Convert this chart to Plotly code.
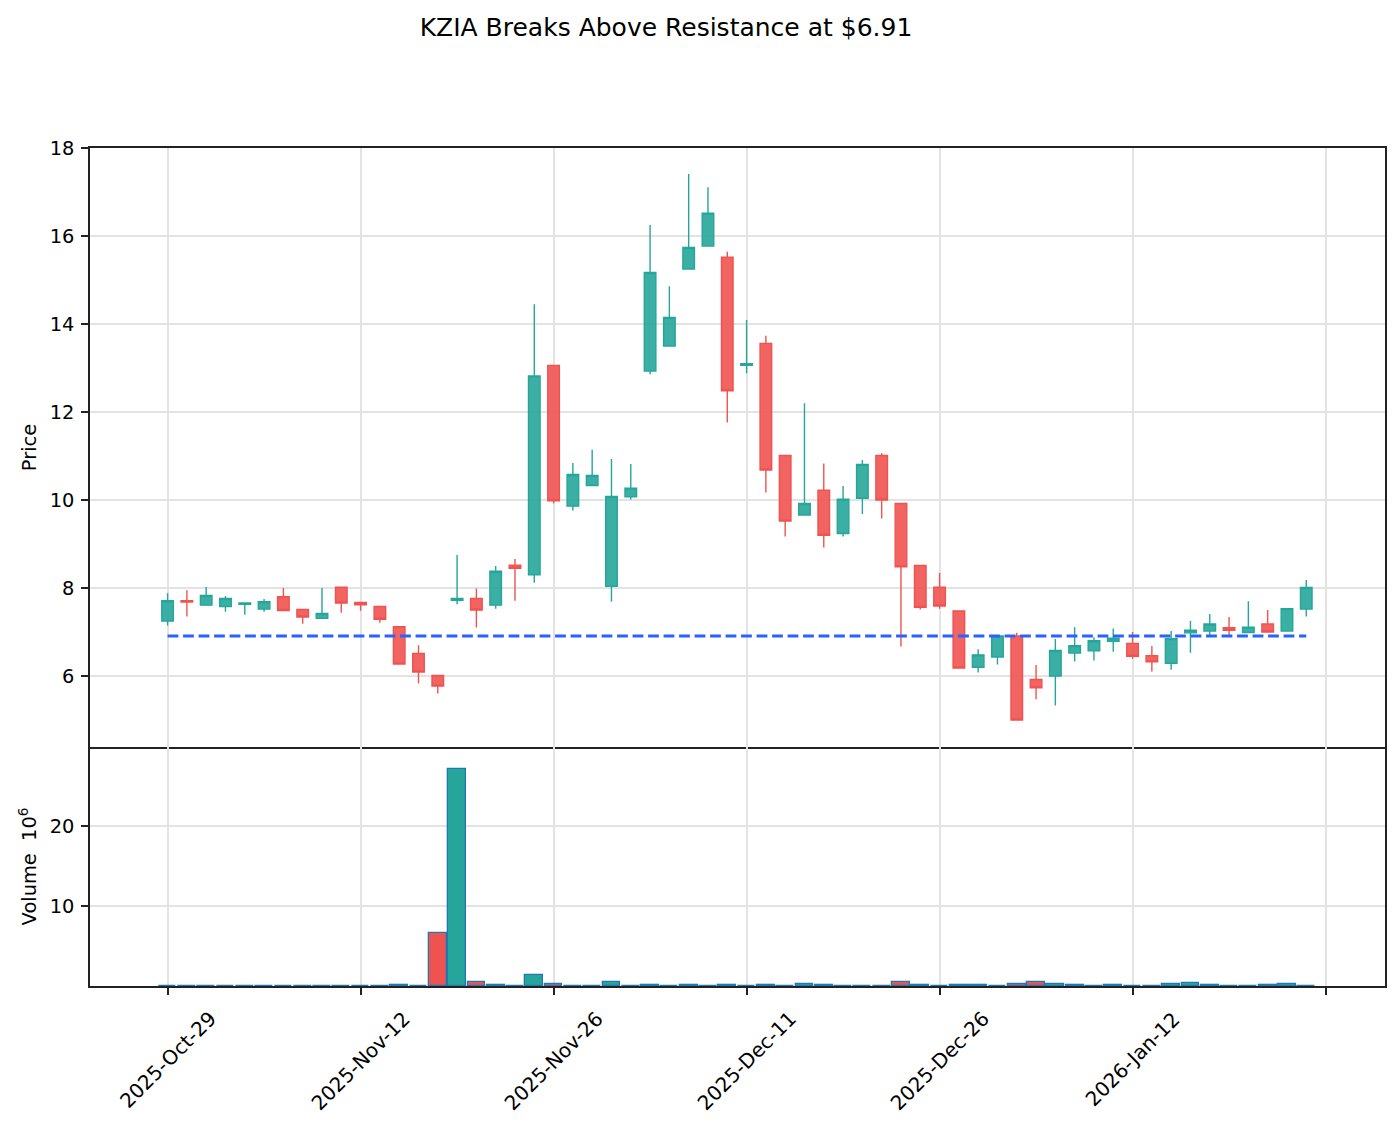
import datetime as dt
import plotly.graph_objects as go

# ---- data ----
dates = ["2025-10-29", "2025-10-30", "2025-10-31", "2025-11-03", "2025-11-04", "2025-11-05",
         "2025-11-06", "2025-11-07", "2025-11-10", "2025-11-11", "2025-11-12", "2025-11-13",
         "2025-11-14", "2025-11-17", "2025-11-18", "2025-11-19", "2025-11-20", "2025-11-21",
         "2025-11-24", "2025-11-25", "2025-11-26", "2025-11-28", "2025-12-01", "2025-12-02",
         "2025-12-03", "2025-12-04", "2025-12-05", "2025-12-08", "2025-12-09", "2025-12-10",
         "2025-12-11", "2025-12-12", "2025-12-15", "2025-12-16", "2025-12-17", "2025-12-18",
         "2025-12-19", "2025-12-22", "2025-12-23", "2025-12-24", "2025-12-26", "2025-12-29",
         "2025-12-30", "2025-12-31", "2026-01-02", "2026-01-05", "2026-01-06", "2026-01-07",
         "2026-01-08", "2026-01-09", "2026-01-12", "2026-01-13", "2026-01-14", "2026-01-15",
         "2026-01-16", "2026-01-20", "2026-01-21", "2026-01-22", "2026-01-23", "2026-01-26"]

opens = [7.25, 7.71, 7.61, 7.58, 7.63, 7.52, 7.80, 7.51, 7.31, 8.02,
         7.67, 7.58, 7.12, 6.51, 6.01, 7.72, 7.76, 7.61, 8.52, 8.30,
         13.06, 9.86, 10.33, 8.04, 10.07, 12.93, 13.50, 15.25, 15.77, 15.52,
         13.06, 13.56, 11.01, 9.66, 10.22, 9.24, 10.04, 11.01, 9.92, 8.51,
         8.02, 7.48, 6.20, 6.43, 6.91, 5.92, 6.00, 6.52, 6.57, 6.79,
         6.74, 6.46, 6.29, 6.98, 7.02, 7.10, 6.99, 7.18, 7.02, 7.52]
highs = [7.88, 7.95, 8.02, 7.82, 7.67, 7.75, 8.00, 7.52, 8.00, 8.03,
         7.68, 7.58, 7.13, 6.70, 6.01, 8.75, 7.99, 8.50, 8.66, 14.45,
         13.07, 10.84, 11.14, 10.93, 10.82, 16.25, 14.86, 17.41, 17.11, 15.64,
         14.09, 13.73, 11.02, 12.20, 10.83, 10.32, 10.91, 11.06, 9.93, 8.52,
         8.34, 7.49, 6.61, 6.92, 6.98, 6.25, 6.84, 7.11, 6.88, 7.08,
         7.00, 6.68, 7.02, 7.25, 7.41, 7.34, 7.70, 7.50, 7.54, 8.18]
lows = [7.15, 7.35, 7.60, 7.46, 7.39, 7.46, 7.48, 7.19, 7.30, 7.44,
        7.48, 7.21, 6.26, 5.83, 5.60, 7.63, 7.10, 7.53, 7.71, 8.12,
        9.92, 9.76, 10.32, 7.69, 10.01, 12.86, 13.49, 15.24, 15.76, 11.76,
        12.88, 10.17, 9.17, 9.65, 8.92, 9.17, 9.68, 9.58, 6.67, 7.51,
        7.53, 6.17, 6.08, 6.26, 4.98, 5.47, 5.33, 6.33, 6.35, 6.55,
        6.39, 6.10, 6.14, 6.53, 6.92, 6.93, 6.98, 7.00, 7.01, 7.35]
closes = [7.71, 7.68, 7.83, 7.76, 7.66, 7.69, 7.49, 7.34, 7.42, 7.66,
          7.62, 7.29, 6.27, 6.09, 5.77, 7.76, 7.50, 8.38, 8.45, 12.82,
          9.98, 10.58, 10.56, 10.08, 10.27, 15.17, 14.15, 15.74, 16.52, 12.48,
          13.10, 10.68, 9.52, 9.92, 9.20, 10.02, 10.81, 10.00, 8.48, 7.56,
          7.59, 6.18, 6.48, 6.91, 5.00, 5.73, 6.58, 6.69, 6.80, 6.86,
          6.45, 6.32, 6.85, 7.04, 7.18, 7.04, 7.11, 7.00, 7.53, 8.01]
volumes_m = [0.04, 0.02, 0.02, 0.02, 0.02, 0.02, 0.02, 0.02, 0.02, 0.02,
             0.02, 0.02, 0.08, 0.03, 6.6, 27.1, 0.45, 0.12, 0.03, 1.35,
             0.22, 0.03, 0.03, 0.45, 0.03, 0.12, 0.03, 0.12, 0.03, 0.12,
             0.03, 0.12, 0.03, 0.25, 0.12, 0.03, 0.03, 0.03, 0.5, 0.12,
             0.03, 0.12, 0.12, 0.03, 0.2, 0.45, 0.25, 0.1, 0.03, 0.1,
             0.03, 0.03, 0.25, 0.4, 0.12, 0.03, 0.03, 0.12, 0.3, 0.05]
resistance = 6.91
title_text = "KZIA Breaks Above Resistance at $6.91"

# ---- derived ----
UP = "#26a69a"
DOWN = "#ef5350"
x_idx = list(range(len(dates)))
tick_idx = list(range(0, len(dates) + 1, 10))
label_idx = [i for i in tick_idx if i < len(dates)]
label_text = [dt.datetime.strptime(dates[i], "%Y-%m-%d").strftime("%Y-%b-%d") for i in label_idx]
vol_colors = [UP if c >= o else DOWN for o, c in zip(opens, closes)]

FONT = "DejaVu Sans"
GRID = "#e3e3e3"
SPINE = "#222222"

fig = go.Figure()
fig.add_trace(go.Candlestick(
    x=x_idx, open=opens, high=highs, low=lows, close=closes,
    increasing=dict(line=dict(color=UP, width=1.4), fillcolor="rgba(38,166,154,0.9)"),
    decreasing=dict(line=dict(color=DOWN, width=1.4), fillcolor="rgba(239,83,80,0.9)"),
    whiskerwidth=0, xaxis="x", yaxis="y", showlegend=False))

fig.add_trace(go.Scatter(
    x=[x_idx[0], x_idx[-1]], y=[resistance, resistance], mode="lines",
    line=dict(color="#2962ff", width=2.9, dash="10.8px,4.7px"),
    xaxis="x", yaxis="y", showlegend=False, hoverinfo="skip"))

fig.add_trace(go.Bar(
    x=x_idx, y=volumes_m, width=0.92,
    marker=dict(color=vol_colors, line=dict(color="#1f77b4", width=1.3)),
    xaxis="x2", yaxis="y2", showlegend=False))

split = 239 / 838
common = dict(showgrid=True, gridcolor=GRID, gridwidth=1.5, zeroline=False,
              tickfont=dict(family=FONT, size=19.4, color="#000000"))

fig.update_layout(
    width=1400, height=1126,
    margin=dict(l=90, r=15, t=148, b=140),
    paper_bgcolor="white", plot_bgcolor="white",
    font=dict(family=FONT, size=19.4, color="#000000"),
    boxgap=0.4, boxgroupgap=0,
    bargap=0,
    title=dict(text=title_text, x=666 / 1400, xref="container", xanchor="center",
               y=1 - 27 / 1126, yref="container", yanchor="middle",
               font=dict(family=FONT, size=25, color="#000000")),
    xaxis=dict(domain=[0, 1], range=[-4.02, 63.08], anchor="y", tickvals=tick_idx,
               showticklabels=False, ticks="", rangeslider=dict(visible=False),
               showline=True, linecolor=SPINE, linewidth=1.5, mirror=True, **common),
    xaxis2=dict(domain=[0, 1], range=[-4.02, 63.08], anchor="y2", matches="x",
                tickmode="array", tickvals=tick_idx, showticklabels=False,
                ticks="outside", ticklen=7, tickwidth=1.5, tickcolor=SPINE,
                showline=True, linecolor=SPINE, linewidth=1.5, mirror=False, **common),
    yaxis=dict(domain=[split, 1], range=[4.386, 18.0], anchor="x",
               tickvals=[6, 8, 10, 12, 14, 16, 18], ticklabelstandoff=3,
               ticks="outside", ticklen=7, tickwidth=1.5, tickcolor=SPINE,
               showline=True, linecolor=SPINE, linewidth=1.5, mirror=True,
               title=dict(text="Price", standoff=8, font=dict(family=FONT, size=19.4)),
               **common),
    yaxis2=dict(domain=[0, split], range=[0, 29.875], anchor="x2",
                tickvals=[10, 20], ticklabelstandoff=3,
                ticks="outside", ticklen=7, tickwidth=1.5, tickcolor=SPINE,
                showline=True, linecolor=SPINE, linewidth=1.5, mirror=True,
                title=dict(text="Volume  10<sup>6</sup>", standoff=8,
                           font=dict(family=FONT, size=19.4)),
                **common),
)

for i, txt in zip(label_idx, label_text):
    fig.add_annotation(x=i, xref="x2", y=0, yref="paper", yshift=-18,
                       text=txt, textangle=-45, showarrow=False,
                       xanchor="center", yanchor="top",
                       font=dict(family=FONT, size=20, color="#000000"))

fig.write_html("out.html")
